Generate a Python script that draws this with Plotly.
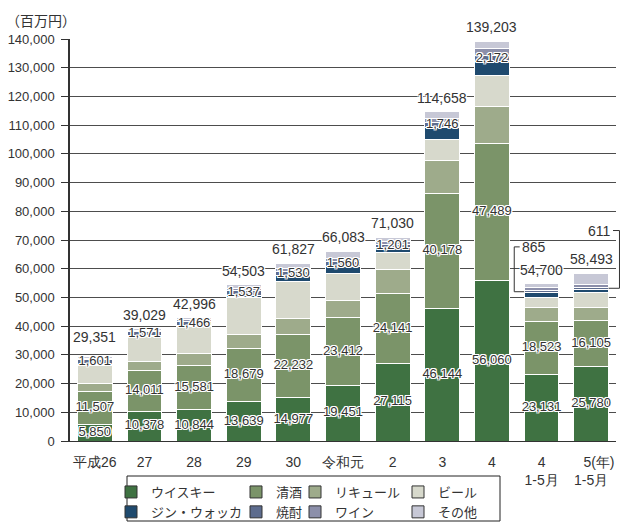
import plotly.graph_objects as go

categories = ["H26", "H27", "H28", "H29", "H30", "R1", "R2", "R3", "R4", "R4_1-5", "R5_1-5"]
tick_labels = ["平成26", "27", "28", "29", "30", "令和元", "2", "3", "4", "4<br>1-5月",
               "\u00a0\u00a0\u00a0\u00a05(年)<br>1-5月"]

whisky = [5850, 10378, 10844, 13639, 14977, 19451, 27115, 46144, 56060, 23131, 25780]
sake = [11507, 14011, 15581, 18679, 22232, 23412, 24141, 40178, 47489, 18523, 16105]
liqueur = [2500, 3200, 4100, 4900, 5500, 6100, 8500, 11500, 13100, 5000, 4700]
beer = [6600, 8700, 9300, 12700, 12800, 9400, 5800, 7300, 10800, 3400, 5100]
gin = [200, 300, 400, 800, 2000, 2500, 1700, 4000, 4600, 1500, 1200]
shochu = [1601, 1571, 1466, 1537, 1530, 1560, 1201, 1746, 2172, 865, 611]
wine = [500, 400, 600, 1000, 1200, 1300, 900, 1400, 2400, 1000, 900]
other = [593, 469, 705, 1248, 1588, 2360, 1673, 2390, 2582, 1281, 4097]
totals = [29351, 39029, 42996, 54503, 61827, 66083, 71030, 114658, 139203, 54700, 58493]

series_names = ["ウイスキー", "清酒", "リキュール", "ビール", "ジン・ウォッカ", "焼酎", "ワイン", "その他"]
series_values = [whisky, sake, liqueur, beer, gin, shochu, wine, other]
colors = ["#3f7242", "#7b9469", "#9eab8b", "#d7d9cc", "#1f4a6e", "#5d6c8e", "#8c8faa", "#c7c8d6"]
# which bars carry an inside value label for each labelled series
labelled = {"ウイスキー": [True] * 11, "清酒": [True] * 11, "焼酎": [True] * 9 + [False, False]}

NUM_FONT = "Liberation Sans, Arial, sans-serif"
JP_FONT = "Noto Sans CJK JP, sans-serif"
HALO = ("1px 1px 0 #fff, -1px -1px 0 #fff, 1px -1px 0 #fff, -1px 1px 0 #fff, "
        "0 1px 0 #fff, 0 -1px 0 #fff, 1px 0 0 #fff, -1px 0 0 #fff")
TXT = "#333333"
W, H = 635, 524

fig = go.Figure()
base = [0] * len(categories)
label_traces = []
for name, vals, col in zip(series_names, series_values, colors):
    fig.add_trace(go.Bar(
        x=categories, y=vals, name=name,
        marker=dict(color=col, line=dict(color="white", width=1)),
        showlegend=False, hoverinfo="skip"))
    if name in labelled:
        xs, ys, ts = [], [], []
        for c, b, v, show in zip(categories, base, vals, labelled[name]):
            if show:
                xs.append(c); ys.append(b + v / 2); ts.append(f"{v:,}")
        label_traces.append(go.Scatter(
            x=xs, y=ys, text=ts, mode="text", textposition="middle center",
            cliponaxis=False, showlegend=False, hoverinfo="skip",
            textfont=dict(family=NUM_FONT, size=13, color=TXT, shadow=HALO)))
    base = [b + v for b, v in zip(base, vals)]

for t in label_traces:
    fig.add_trace(t)

# legend entries (4 columns, 2 rows)
legend_cols = ["legend", "legend2", "legend3", "legend4"]
for i, (name, col) in enumerate(zip(series_names, colors)):
    fig.add_trace(go.Bar(x=[None], y=[None], name=name,
                         marker=dict(color=col, line=dict(color="#333333", width=1)),
                         legend=legend_cols[i % 4], showlegend=True))

n = len(categories)
def px(idx):
    return (idx + 0.5) / n

half = 0.35
i10, i11 = 9, 10
mid10 = whisky[i10] + sake[i10] + liqueur[i10] + beer[i10] + gin[i10] + shochu[i10] / 2
mid11 = whisky[i11] + sake[i11] + liqueur[i11] + beer[i11] + gin[i11] + shochu[i11] / 2
top10, top11 = 67600, 73300
xl = i10 - half - 0.2
xr = i11 + half + 0.22
shapes = [
    dict(type="path", xref="paper", yref="y",
         path=f"M{px(i10 - half)},{mid10} L{px(xl)},{mid10} L{px(xl)},{top10} L{px(xl + 0.11)},{top10}",
         line=dict(color=TXT, width=1)),
    dict(type="path", xref="paper", yref="y",
         path=f"M{px(i11 + half)},{mid11} L{px(xr)},{mid11} L{px(xr)},{top11} L{px(xr - 0.13)},{top11}",
         line=dict(color=TXT, width=1)),
    dict(type="rect", xref="paper", yref="paper", x0=(127 - 70) / 546, x1=(500 - 70) / 546,
         y0=(441 - 521) / 402, y1=(441 - 476) / 402, line=dict(color="#222222", width=1)),
]
annotations = [
    dict(text=f"{shochu[i10]:,}", xref="paper", yref="y", x=px(xl + 0.12), y=top10,
         xanchor="left", yanchor="middle", showarrow=False,
         font=dict(family=NUM_FONT, size=14, color=TXT)),
    dict(text=f"{shochu[i11]:,}", xref="paper", yref="y", x=px(xr - 0.14), y=top11,
         xanchor="right", yanchor="middle", showarrow=False,
         font=dict(family=NUM_FONT, size=14, color=TXT)),
    dict(text="（百万円）", xref="paper", yref="paper", x=(4 - 70) / 546, y=1 + 19 / 402,
         xanchor="left", yanchor="middle", showarrow=False,
         font=dict(family=JP_FONT, size=14, color=TXT)),
]
# totals above each bar
for i, (c, t) in enumerate(zip(categories, totals)):
    annotations.append(dict(
        text=f"{t:,}", x=c, y=t, xref="x", yref="y", xanchor="center", yanchor="bottom",
        yshift=10 if i == 0 else 4, showarrow=False,
        font=dict(family=NUM_FONT, size=14, color=TXT, shadow=HALO)))

leg_common = dict(orientation="v", xanchor="left", yanchor="top", bgcolor="rgba(0,0,0,0)",
                  xref="container", yref="container", traceorder="normal",
                  font=dict(family=JP_FONT, size=13, color=TXT), tracegroupgap=0,
                  itemclick=False, itemdoubleclick=False)
leg_x = [111, 236, 295, 398]
legends = {}
for k, lx in zip(legend_cols, leg_x):
    legends[k] = dict(leg_common, x=lx / W, y=1 - 477 / H)

fig.update_layout(
    barmode="stack", bargap=0.3, width=W, height=H,
    margin=dict(l=70, r=19, t=39, b=83, autoexpand=False),
    plot_bgcolor="white", paper_bgcolor="white",
    font=dict(family=NUM_FONT, size=13, color=TXT),
    xaxis=dict(tickvals=categories, ticktext=tick_labels, showline=True, linecolor=TXT,
               linewidth=1, ticks="", showgrid=False, range=[-0.5, 10.5],
               ticklabelstandoff=8,
               tickfont=dict(family=NUM_FONT, size=14, color=TXT)),
    yaxis=dict(range=[0, 140000], tickvals=list(range(0, 140001, 10000)), tickformat=",d",
               showline=True, linecolor=TXT, linewidth=1.5, ticks="outside", ticklen=7,
               tickcolor=TXT, showgrid=True, gridcolor="#4d4d4d", gridwidth=1,
               ticklabelstandoff=4, zeroline=False,
               tickfont=dict(family=NUM_FONT, size=13, color=TXT)),
    shapes=shapes, annotations=annotations, **legends)

fig.write_html("out.html")
